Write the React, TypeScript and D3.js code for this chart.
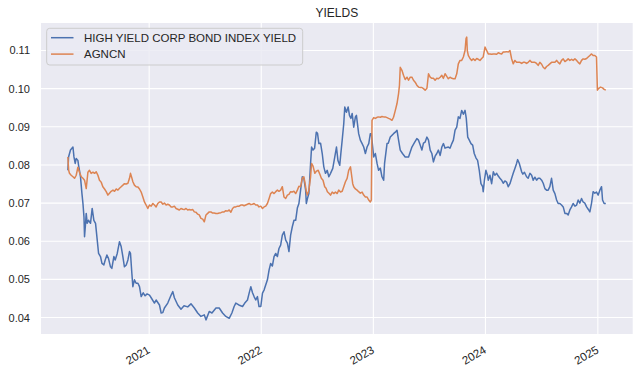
import React from "react";
import * as d3 from "d3";

// HIGH YIELD CORP BOND INDEX YIELD (decimal year, value)
const hyT = [2020.277,2020.283,2020.300,2020.322,2020.331,2020.342,2020.351,2020.366,2020.372,2020.380,2020.389,2020.402,2020.411,2020.420,2020.425,2020.433,2020.440,2020.449,2020.460,2020.478,2020.493,2020.508,2020.523,2020.538,2020.550,2020.567,2020.580,2020.597,2020.609,2020.624,2020.638,2020.656,2020.668,2020.686,2020.698,2020.716,2020.736,2020.751,2020.766,2020.780,2020.796,2020.811,2020.825,2020.834,2020.846,2020.855,2020.869,2020.884,2020.900,2020.914,2020.929,2020.947,2020.964,2020.982,2021.003,2021.018,2021.047,2021.062,2021.092,2021.107,2021.122,2021.136,2021.166,2021.196,2021.211,2021.225,2021.255,2021.284,2021.311,2021.344,2021.373,2021.403,2021.433,2021.462,2021.492,2021.507,2021.536,2021.560,2021.596,2021.625,2021.655,2021.684,2021.714,2021.738,2021.758,2021.773,2021.800,2021.833,2021.853,2021.877,2021.892,2021.907,2021.922,2021.936,2021.951,2021.966,2021.980,2021.996,2022.011,2022.025,2022.055,2022.070,2022.084,2022.099,2022.114,2022.129,2022.144,2022.158,2022.173,2022.188,2022.203,2022.218,2022.233,2022.247,2022.262,2022.277,2022.292,2022.307,2022.322,2022.336,2022.351,2022.366,2022.380,2022.396,2022.402,2022.413,2022.425,2022.440,2022.449,2022.462,2022.476,2022.491,2022.502,2022.514,2022.529,2022.544,2022.558,2022.573,2022.588,2022.603,2022.618,2022.638,2022.656,2022.671,2022.684,2022.700,2022.711,2022.722,2022.736,2022.745,2022.760,2022.775,2022.787,2022.800,2022.811,2022.825,2022.840,2022.849,2022.869,2022.884,2022.900,2022.914,2022.929,2022.944,2022.959,2022.973,2022.982,2023.003,2023.018,2023.033,2023.047,2023.062,2023.077,2023.092,2023.100,2023.122,2023.133,2023.151,2023.180,2023.196,2023.211,2023.225,2023.240,2023.260,2023.284,2023.314,2023.344,2023.364,2023.388,2023.403,2023.418,2023.433,2023.447,2023.462,2023.478,2023.492,2023.507,2023.522,2023.536,2023.551,2023.566,2023.580,2023.596,2023.611,2023.625,2023.640,2023.655,2023.669,2023.684,2023.700,2023.714,2023.729,2023.744,2023.758,2023.773,2023.788,2023.803,2023.818,2023.829,2023.842,2023.856,2023.871,2023.886,2023.900,2023.916,2023.930,2023.945,2023.960,2023.975,2023.980,2023.991,2024.004,2024.018,2024.025,2024.040,2024.055,2024.070,2024.084,2024.100,2024.114,2024.129,2024.144,2024.158,2024.173,2024.188,2024.203,2024.218,2024.233,2024.247,2024.262,2024.277,2024.286,2024.300,2024.322,2024.333,2024.347,2024.366,2024.380,2024.396,2024.411,2024.425,2024.440,2024.455,2024.469,2024.484,2024.500,2024.514,2024.529,2024.544,2024.558,2024.573,2024.588,2024.603,2024.618,2024.633,2024.647,2024.662,2024.677,2024.692,2024.707,2024.722,2024.736,2024.751,2024.766,2024.780,2024.796,2024.811,2024.825,2024.840,2024.855,2024.869,2024.884,2024.900,2024.914,2024.929,2024.944,2024.958,2024.973,2024.988,2025.003,2025.018,2025.033,2025.042,2025.056,2025.071];
const hyV = [0.0786,0.0821,0.0839,0.0847,0.0821,0.0804,0.0817,0.0812,0.0799,0.0786,0.0769,0.0725,0.0699,0.0664,0.0612,0.0642,0.0673,0.0647,0.0655,0.0647,0.0686,0.0655,0.0647,0.0603,0.0568,0.0560,0.0542,0.0538,0.0551,0.0564,0.0555,0.0533,0.0529,0.0560,0.0551,0.0568,0.0599,0.0586,0.0560,0.0533,0.0538,0.0551,0.0573,0.0568,0.0516,0.0481,0.0499,0.0490,0.0490,0.0481,0.0455,0.0465,0.0457,0.0462,0.0459,0.0452,0.0438,0.0446,0.0433,0.0412,0.0413,0.0425,0.0438,0.0459,0.0468,0.0452,0.0433,0.0422,0.0431,0.0428,0.0436,0.0425,0.0412,0.0403,0.0407,0.0394,0.0416,0.0412,0.0425,0.0425,0.0412,0.0403,0.0398,0.0412,0.0429,0.0438,0.0433,0.0429,0.0438,0.0446,0.0464,0.0481,0.0465,0.0455,0.0446,0.0455,0.0429,0.0429,0.0464,0.0472,0.0499,0.0525,0.0542,0.0535,0.0560,0.0568,0.0560,0.0581,0.0590,0.0616,0.0625,0.0603,0.0595,0.0573,0.0616,0.0638,0.0655,0.0655,0.0687,0.0699,0.0734,0.0769,0.0765,0.0734,0.0699,0.0713,0.0725,0.0804,0.0847,0.0839,0.0844,0.0886,0.0883,0.0856,0.0857,0.0830,0.0795,0.0778,0.0786,0.0769,0.0778,0.0791,0.0821,0.0847,0.0812,0.0799,0.0833,0.0865,0.0908,0.0952,0.0938,0.0952,0.0930,0.0922,0.0935,0.0899,0.0926,0.0930,0.0882,0.0865,0.0856,0.0847,0.0830,0.0847,0.0856,0.0882,0.0882,0.0821,0.0830,0.0804,0.0786,0.0792,0.0769,0.0760,0.0804,0.0856,0.0857,0.0873,0.0882,0.0886,0.0891,0.0865,0.0839,0.0830,0.0821,0.0821,0.0847,0.0857,0.0869,0.0865,0.0852,0.0839,0.0857,0.0860,0.0873,0.0865,0.0839,0.0830,0.0808,0.0823,0.0830,0.0839,0.0825,0.0847,0.0856,0.0844,0.0846,0.0847,0.0844,0.0856,0.0865,0.0891,0.0899,0.0926,0.0922,0.0943,0.0933,0.0943,0.0922,0.0873,0.0865,0.0856,0.0852,0.0830,0.0818,0.0812,0.0786,0.0751,0.0743,0.0730,0.0760,0.0786,0.0773,0.0760,0.0773,0.0751,0.0782,0.0773,0.0778,0.0771,0.0765,0.0760,0.0752,0.0758,0.0755,0.0743,0.0751,0.0765,0.0778,0.0791,0.0804,0.0814,0.0805,0.0782,0.0776,0.0781,0.0769,0.0765,0.0778,0.0773,0.0760,0.0768,0.0760,0.0765,0.0765,0.0760,0.0752,0.0738,0.0734,0.0734,0.0743,0.0765,0.0734,0.0725,0.0708,0.0699,0.0699,0.0695,0.0690,0.0673,0.0673,0.0669,0.0682,0.0690,0.0699,0.0692,0.0695,0.0708,0.0700,0.0712,0.0703,0.0700,0.0690,0.0684,0.0677,0.0700,0.0730,0.0726,0.0729,0.0721,0.0734,0.0743,0.0708,0.0699,0.0699];

// AGNCN (decimal year, value)
const agT = [2020.277,2020.284,2020.291,2020.306,2020.322,2020.336,2020.351,2020.366,2020.380,2020.396,2020.411,2020.425,2020.440,2020.455,2020.469,2020.484,2020.500,2020.514,2020.529,2020.544,2020.558,2020.573,2020.588,2020.603,2020.618,2020.633,2020.647,2020.662,2020.678,2020.692,2020.707,2020.722,2020.736,2020.751,2020.766,2020.780,2020.796,2020.811,2020.825,2020.834,2020.844,2020.855,2020.869,2020.884,2020.900,2020.914,2020.929,2020.944,2020.958,2020.973,2020.988,2021.003,2021.018,2021.033,2021.047,2021.062,2021.077,2021.092,2021.107,2021.122,2021.136,2021.151,2021.166,2021.180,2021.196,2021.211,2021.225,2021.240,2021.255,2021.269,2021.284,2021.300,2021.314,2021.329,2021.344,2021.358,2021.373,2021.389,2021.403,2021.418,2021.433,2021.447,2021.462,2021.478,2021.492,2021.507,2021.522,2021.536,2021.551,2021.566,2021.580,2021.596,2021.611,2021.625,2021.640,2021.655,2021.669,2021.684,2021.700,2021.714,2021.729,2021.744,2021.758,2021.773,2021.788,2021.803,2021.818,2021.833,2021.847,2021.862,2021.877,2021.892,2021.907,2021.922,2021.936,2021.951,2021.966,2021.980,2021.996,2022.011,2022.025,2022.040,2022.055,2022.070,2022.084,2022.099,2022.114,2022.129,2022.144,2022.158,2022.173,2022.188,2022.203,2022.218,2022.233,2022.247,2022.262,2022.277,2022.292,2022.307,2022.322,2022.336,2022.351,2022.366,2022.380,2022.391,2022.402,2022.411,2022.425,2022.440,2022.449,2022.462,2022.478,2022.493,2022.508,2022.522,2022.536,2022.551,2022.566,2022.578,2022.590,2022.604,2022.618,2022.633,2022.647,2022.662,2022.677,2022.691,2022.707,2022.722,2022.736,2022.751,2022.766,2022.780,2022.796,2022.806,2022.816,2022.825,2022.840,2022.855,2022.869,2022.884,2022.900,2022.914,2022.929,2022.944,2022.959,2022.973,2022.982,2022.988,2023.003,2023.018,2023.033,2023.047,2023.062,2023.077,2023.092,2023.107,2023.122,2023.136,2023.151,2023.166,2023.180,2023.196,2023.211,2023.225,2023.233,2023.240,2023.255,2023.269,2023.284,2023.300,2023.314,2023.329,2023.344,2023.358,2023.373,2023.388,2023.403,2023.418,2023.433,2023.447,2023.462,2023.478,2023.492,2023.507,2023.522,2023.536,2023.551,2023.566,2023.580,2023.596,2023.611,2023.625,2023.640,2023.655,2023.669,2023.684,2023.700,2023.714,2023.729,2023.744,2023.758,2023.773,2023.788,2023.803,2023.818,2023.827,2023.833,2023.838,2023.847,2023.862,2023.877,2023.891,2023.907,2023.922,2023.936,2023.951,2023.966,2023.980,2023.996,2024.011,2024.025,2024.040,2024.055,2024.070,2024.084,2024.100,2024.114,2024.129,2024.144,2024.158,2024.173,2024.188,2024.203,2024.218,2024.233,2024.247,2024.262,2024.277,2024.291,2024.307,2024.322,2024.336,2024.351,2024.366,2024.380,2024.396,2024.411,2024.425,2024.440,2024.455,2024.469,2024.484,2024.500,2024.514,2024.529,2024.544,2024.558,2024.573,2024.588,2024.603,2024.618,2024.633,2024.647,2024.662,2024.677,2024.692,2024.707,2024.722,2024.736,2024.751,2024.766,2024.780,2024.796,2024.811,2024.825,2024.840,2024.855,2024.869,2024.884,2024.900,2024.914,2024.929,2024.944,2024.958,2024.973,2024.988,2024.996,2025.008,2025.024,2025.042,2025.056,2025.071];
const agV = [0.0821,0.0786,0.0778,0.0773,0.0769,0.0765,0.0773,0.0794,0.0781,0.0769,0.0765,0.0760,0.0738,0.0781,0.0786,0.0778,0.0781,0.0778,0.0782,0.0773,0.0760,0.0755,0.0743,0.0737,0.0730,0.0721,0.0726,0.0731,0.0734,0.0731,0.0737,0.0734,0.0739,0.0743,0.0747,0.0751,0.0750,0.0752,0.0765,0.0778,0.0768,0.0756,0.0747,0.0743,0.0742,0.0737,0.0729,0.0716,0.0703,0.0695,0.0686,0.0695,0.0692,0.0699,0.0695,0.0690,0.0699,0.0703,0.0703,0.0697,0.0700,0.0695,0.0697,0.0695,0.0690,0.0690,0.0692,0.0686,0.0684,0.0682,0.0686,0.0684,0.0683,0.0686,0.0682,0.0683,0.0682,0.0683,0.0677,0.0676,0.0671,0.0669,0.0660,0.0658,0.0651,0.0669,0.0673,0.0677,0.0677,0.0674,0.0674,0.0673,0.0673,0.0674,0.0675,0.0677,0.0677,0.0680,0.0679,0.0682,0.0676,0.0686,0.0690,0.0690,0.0692,0.0692,0.0695,0.0695,0.0693,0.0695,0.0697,0.0699,0.0696,0.0697,0.0699,0.0695,0.0695,0.0690,0.0692,0.0686,0.0690,0.0692,0.0699,0.0712,0.0725,0.0729,0.0725,0.0730,0.0734,0.0731,0.0734,0.0743,0.0716,0.0712,0.0721,0.0723,0.0730,0.0729,0.0731,0.0725,0.0734,0.0744,0.0743,0.0765,0.0769,0.0752,0.0730,0.0721,0.0734,0.0769,0.0804,0.0797,0.0778,0.0784,0.0786,0.0776,0.0765,0.0760,0.0743,0.0739,0.0730,0.0726,0.0721,0.0729,0.0725,0.0729,0.0725,0.0734,0.0729,0.0731,0.0743,0.0756,0.0765,0.0786,0.0795,0.0773,0.0751,0.0743,0.0737,0.0734,0.0730,0.0726,0.0729,0.0721,0.0716,0.0716,0.0708,0.0703,0.0708,0.0917,0.0924,0.0922,0.0925,0.0926,0.0925,0.0927,0.0926,0.0926,0.0924,0.0922,0.0920,0.0917,0.0925,0.0943,0.0961,0.0987,0.1009,0.1056,0.1048,0.1035,0.1024,0.1030,0.1022,0.1030,0.1030,0.1022,0.1017,0.1009,0.1004,0.1003,0.1003,0.1000,0.0996,0.1001,0.1039,0.1030,0.1027,0.1027,0.1022,0.1027,0.1026,0.1030,0.1035,0.1027,0.1039,0.1032,0.1026,0.1030,0.1027,0.1026,0.1026,0.1039,0.1065,0.1074,0.1074,0.1083,0.1100,0.1131,0.1135,0.1100,0.1087,0.1079,0.1074,0.1078,0.1074,0.1079,0.1077,0.1074,0.1079,0.1083,0.1109,0.1100,0.1091,0.1091,0.1090,0.1091,0.1091,0.1090,0.1094,0.1092,0.1091,0.1096,0.1096,0.1097,0.1096,0.1100,0.1078,0.1065,0.1074,0.1069,0.1069,0.1069,0.1066,0.1069,0.1069,0.1066,0.1069,0.1074,0.1069,0.1069,0.1069,0.1066,0.1061,0.1069,0.1064,0.1056,0.1052,0.1058,0.1061,0.1065,0.1069,0.1069,0.1069,0.1074,0.1069,0.1065,0.1074,0.1078,0.1071,0.1074,0.1078,0.1074,0.1077,0.1074,0.1078,0.1074,0.1069,0.1065,0.1074,0.1078,0.1077,0.1079,0.1083,0.1087,0.1091,0.1087,0.1087,0.1083,0.0996,0.1001,0.1004,0.1002,0.0998,0.0996];

const seriesNames = ["HIGH YIELD CORP BOND INDEX YIELD", "AGNCN"];
const seriesColors = ["#4C72B0", "#DD8452"];
const yTicks = [0.04, 0.05, 0.06, 0.07, 0.08, 0.09, 0.10, 0.11];
const xTickYears = [2021, 2022, 2023, 2024, 2025];
const title = "YIELDS";

function toDate(t: number): Date {
  const y = Math.floor(t);
  const s = Date.UTC(y, 0, 1);
  const e = Date.UTC(y + 1, 0, 1);
  return new Date(s + (t - y) * (e - s));
}

const W = 640, H = 375;
const L = 41, R = 632.7, T = 23, B = 334;
const FONT = "'Liberation Sans', Arial, sans-serif";
const TXT = "#262626";

export default function App() {
  const hy = hyT.map((t, i) => ({ d: toDate(t), v: hyV[i] }));
  const ag = agT.map((t, i) => ({ d: toDate(t), v: agV[i] }));
  const all = hy.concat(ag);
  const [d0, d1] = d3.extent(all, (p) => p.d.getTime()) as [number, number];
  const [v0, v1] = d3.extent(all, (p) => p.v) as [number, number];
  const dp = (d1 - d0) * 0.05, vp = (v1 - v0) * 0.05;
  const x = d3.scaleUtc().domain([new Date(d0 - dp), new Date(d1 + dp)]).range([L, R]);
  const y = d3.scaleLinear().domain([v0 - vp, v1 + vp]).range([B, T]);
  const line = d3.line<{ d: Date; v: number }>().x((p) => x(p.d)).y((p) => y(p.v));
  const series = [hy, ag];
  const fmt = d3.format(".2f");

  return (
    <svg width={W} height={H} style={{ position: "absolute", left: 0, top: 0, background: "#fff" }} fontFamily={FONT}>
      <rect x={L} y={T} width={R - L} height={B - T} fill="#EAEAF2" />
      {yTicks.map((t) => (
        <line key={"gy" + t} x1={L} x2={R} y1={y(t)} y2={y(t)} stroke="#fff" strokeWidth={1.1} />
      ))}
      {xTickYears.map((yr) => {
        const px = x(new Date(Date.UTC(yr, 0, 1)));
        return <line key={"gx" + yr} x1={px} x2={px} y1={T} y2={B} stroke="#fff" strokeWidth={1.1} />;
      })}
      {series.map((s, i) => (
        <path key={i} d={line(s) || ""} fill="none" stroke={seriesColors[i]} strokeWidth={1.5} strokeLinejoin="round" />
      ))}
      {yTicks.map((t) => (
        <text key={"ty" + t} x={30} y={y(t) + 4} textAnchor="end" fontSize={11} fill={TXT}>{fmt(t)}</text>
      ))}
      {xTickYears.map((yr) => {
        const px = x(new Date(Date.UTC(yr, 0, 1)));
        return (
          <text key={"tx" + yr} transform={`translate(${px - 2.5},${345}) rotate(-30)`} textAnchor="end" dy="0.72em" fontSize={11.5} fill={TXT}>{yr}</text>
        );
      })}
      <text x={(L + R) / 2} y={17} textAnchor="middle" fontSize={12} fill={TXT}>{title}</text>
      <g>
        <rect x={46.7} y={28.3} width={256} height={36.7} rx={3} fill="#EAEAF2" fillOpacity={0.8} stroke="#CCCCCC" strokeWidth={1} />
        {seriesNames.map((n, i) => (
          <g key={n}>
            <line x1={51} x2={73.5} y1={37.7 + i * 16.4} y2={37.7 + i * 16.4} stroke={seriesColors[i]} strokeWidth={1.5} />
            <text x={84} y={37.7 + i * 16.4 + 4} fontSize={11.5} fill={TXT}>{n}</text>
          </g>
        ))}
      </g>
    </svg>
  );
}
